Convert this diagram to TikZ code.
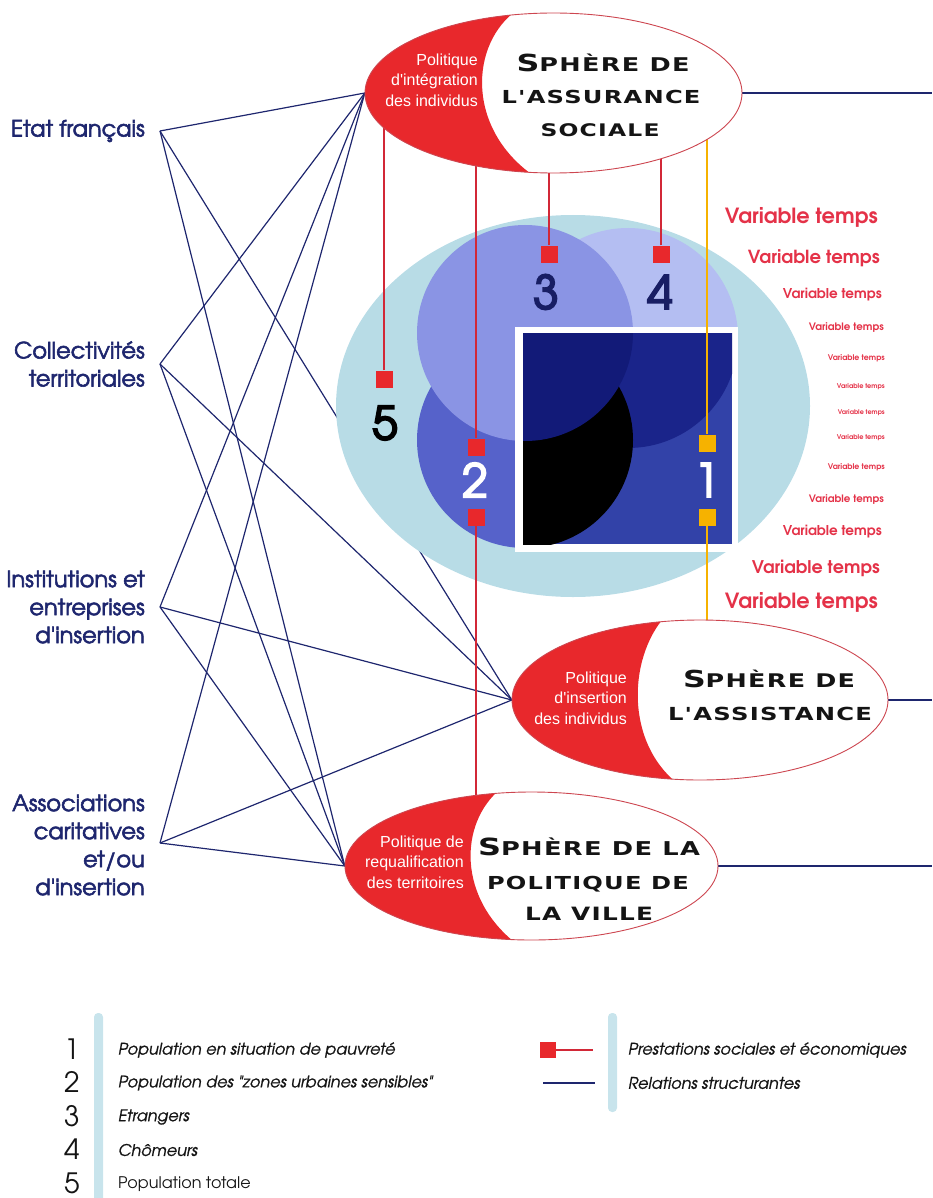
\documentclass[tikz,border=0pt]{standalone}
\usepackage{fontspec}
\usepackage{graphicx}
\usetikzlibrary{shapes.geometric}
\newfontfamily\adv{texgyreadventor}[Extension=.otf, UprightFont=*-regular, BoldFont=*-bold, ItalicFont=*-italic, BoldItalicFont=*-bolditalic]
\newfontfamily\advfb{texgyreadventor}[Extension=.otf, UprightFont=*-regular, FakeBold=2.5]
\newfontfamily\advnb{texgyreadventor}[Extension=.otf, UprightFont=*-regular, FakeBold=4]
\newfontfamily\advit{texgyreadventor}[Extension=.otf, UprightFont=*-italic, FakeBold=1]
\newfontfamily\sphfont{DejaVu Sans}[FakeStretch=1.35, LetterSpace=7]
\newfontfamily\polfont{Liberation Sans}
\definecolor{navy}{RGB}{30,38,110}
\definecolor{sred}{RGB}{232,40,44}
\definecolor{rline}{RGB}{210,40,55}
\definecolor{outl}{RGB}{205,70,80}
\definecolor{ylw}{RGB}{246,178,0}
\definecolor{lblue}{RGB}{184,220,230}
\definecolor{cfour}{RGB}{180,190,242}
\definecolor{cthree}{RGB}{138,148,228}
\definecolor{ctwo}{RGB}{86,98,202}
\definecolor{sqbase}{RGB}{50,66,168}
\definecolor{sqthree}{RGB}{18,26,120}
\definecolor{sqfour}{RGB}{26,36,138}
\definecolor{vtred}{RGB}{228,50,72}
\definecolor{numnavy}{RGB}{24,30,100}
\definecolor{legbar}{RGB}{200,228,236}
\definecolor{titlek}{RGB}{20,20,20}
\newcommand\sphl[2]{\resizebox{#1pt}{!}{#2}}
\newcommand\sphS[1]{{\fontsize{23}{23}\selectfont #1}}
\newcommand\vtxt[1]{\resizebox{#1pt}{!}{\adv\bfseries Variable temps}}
\tikzset{
  navyl/.style={draw=navy, line width=1.2pt},
  redl/.style={draw=rline, line width=2.6pt},
  ylwl/.style={draw=ylw, line width=2.6pt},
  rsq/.style={fill=sred, minimum size=17pt, inner sep=0pt, draw=none},
  ysq/.style={fill=ylw, minimum size=17pt, inner sep=0pt, draw=none},
  sphnode/.style={ellipse, inner sep=0pt, draw=none},
  sph/.style={anchor=base, inner sep=0pt, text=titlek, font=\sphfont\bfseries\fontsize{18.5}{18.5}\selectfont},
  pol/.style={anchor=east, inner sep=0pt, text=white, align=right, font=\polfont\fontsize{16}{20.5}\selectfont},
  actor/.style={anchor=east, inner sep=0pt, text=navy, align=right, font=\advfb\fontsize{22.5}{28}\selectfont},
  vt/.style={anchor=east, inner sep=0pt, text=vtred},
  bignum/.style={inner sep=0pt, font=\advnb\fontsize{46}{46}\selectfont},
  legnum/.style={inner sep=0pt, text=titlek, font=\adv\fontsize{28}{28}\selectfont},
  legtxt/.style={anchor=west, inner sep=0pt, text=titlek, font=\advit\fontsize{16}{16}\selectfont},
}
\begin{document}
\begin{tikzpicture}[x=1pt,y=-1pt]
\useasboundingbox (0,0) rectangle (932,1198);
% sphere nodes (names only)
\node[sphnode, minimum width=377pt, minimum height=160pt] (assur) at (553.5,93) {};
\node[sphnode, minimum width=376pt, minimum height=160pt] (assist) at (700,700) {};
\node[sphnode, minimum width=373pt, minimum height=148pt] (ville) at (531.5,866) {};
% actor anchor points
\coordinate (etatP) at (160,131);
\coordinate (collP) at (160,364);
\coordinate (instP) at (160,607);
\coordinate (assoP) at (160,843);
\coordinate (rA) at (932,93);
\coordinate (rB) at (932,700);
\coordinate (rC) at (932,866);
% relations structurantes
\foreach \a in {etatP,collP,instP,assoP}{
  \draw[navyl] (\a) -- (assur.west);
  \draw[navyl] (\a) -- (assist.west);
  \draw[navyl] (\a) -- (ville.west);
}
\draw[navyl] (assur.east) -- (rA);
\draw[navyl] (assist.east) -- (rB);
\draw[navyl] (ville.east) -- (rC);
% population diagram
\fill[lblue] (573,406) ellipse [x radius=237pt, y radius=191pt];
\fill[cfour] (628,338) circle [radius=110pt];
\fill[ctwo] (525,440) circle [radius=108pt];
\fill[cthree] (525,333) circle [radius=108pt];
\fill[white] (515,327) rectangle (738,552);
\fill[sqbase] (523,333) rectangle (732,544);
\begin{scope}
  \clip (523,333) rectangle (732,544);
  \fill[sqfour] (628,338) circle [radius=110pt];
  \fill[black] (525,440) circle [radius=108pt];
  \fill[sqthree] (525,333) circle [radius=108pt];
\end{scope}
% markers
\node[rsq] (q5) at (384,379) {};
\node[rsq] (q3) at (549,254) {};
\node[rsq] (q4) at (661,254) {};
\node[rsq] (q2a) at (476,447) {};
\node[rsq] (q2b) at (476,517) {};
\node[ysq] (y1a) at (707,443) {};
\node[ysq] (y1b) at (707,517) {};
% prestations
\draw[redl] (q5) -- (q5 |- assur.center);
\draw[redl] (q3) -- (q3 |- assur.center);
\draw[redl] (q4) -- (q4 |- assur.center);
\draw[redl] (q2a) -- (q2a |- assur.center);
\draw[redl] (q2b) -- (q2b |- ville.center);
\draw[ylwl] (y1a) -- (y1a |- assur.center);
\draw[ylwl] (y1b) -- (y1b |- assist.center);
\node[rsq] at (q5) {};
\node[rsq] at (q3) {};
\node[rsq] at (q4) {};
\node[rsq] at (q2a) {};
\node[rsq] at (q2b) {};
\node[ysq] at (y1a) {};
\node[ysq] at (y1b) {};
% numbers
\node[bignum, text=numnavy] (n3) at (546,292) {3};
\node[bignum, text=numnavy] (n4) at (660,292) {4};
\node[bignum, text=black] (n5) at (385,423) {5};
\node[bignum, text=white] (n2) at (475,480) {2};
\node[bignum, text=white] (n1) at (707,480) {1};
% spheres
\fill[white] (553.5,93) ellipse [x radius=188.5pt, y radius=80pt];
\begin{scope}
  \clip (553.5,93) ellipse [x radius=188.5pt, y radius=80pt];
  \fill[sred] (513,0) -- (513,13) .. controls (468,50) and (468,135) .. (540,180) -- (340,180) -- (340,0) -- cycle;
\end{scope}
\draw[outl, line width=0.9pt] (553.5,93) ellipse [x radius=188.5pt, y radius=80pt];

\fill[white] (700,700) ellipse [x radius=188pt, y radius=80pt];
\begin{scope}
  \clip (700,700) ellipse [x radius=188pt, y radius=80pt];
  \fill[sred] (662,600) -- (662,620) .. controls (626,665) and (626,755) .. (690,792) -- (490,792) -- (490,600) -- cycle;
\end{scope}
\draw[outl, line width=0.9pt] (700,700) ellipse [x radius=188pt, y radius=80pt];

\fill[white] (531.5,866) ellipse [x radius=186.5pt, y radius=74pt];
\begin{scope}
  \clip (531.5,866) ellipse [x radius=186.5pt, y radius=74pt];
  \fill[sred] (497,770) -- (497,792) .. controls (458,828) and (458,905) .. (525,950) -- (330,950) -- (330,770) -- cycle;
\end{scope}
\draw[outl, line width=0.9pt] (531.5,866) ellipse [x radius=186.5pt, y radius=74pt];
% sphere texts
\node[pol] (p1) at (478,80) {Politique\\d'intégration\\des individus};
\node[pol] (p2) at (627,698) {Politique\\d'insertion\\des individus};
\node[pol] (p3) at (464,862) {Politique de\\requalification\\des territoires};
\node[sph] (t1a) at (603,72) {\sphl{173}{\sphS{S}PHÈRE DE}};
\node[sph] (t1b) at (601,104) {\sphl{199}{L'ASSURANCE}};
\node[sph] (t1c) at (600,137) {\sphl{119}{SOCIALE}};
\node[sph] (t2a) at (769,687) {\sphl{172}{\sphS{S}PHÈRE DE}};
\node[sph] (t2b) at (770,720) {\sphl{204}{L'ASSISTANCE}};
\node[sph] (t3a) at (589,855) {\sphl{222}{\sphS{S}PHÈRE DE LA}};
\node[sph] (t3b) at (588,889) {\sphl{202}{POLITIQUE DE}};
\node[sph] (t3c) at (589,920) {\sphl{128}{LA VILLE}};
% variable temps
\node[vt] (v1) at (878,217) {\vtxt{153}};
\node[vt] (v2) at (880,258) {\vtxt{132}};
\node[vt] (v3) at (882,295) {\vtxt{99}};
\node[vt] (v4) at (884,328) {\vtxt{75}};
\node[vt] (v5) at (885,358) {\vtxt{57}};
\node[vt] (v6) at (885,387) {\vtxt{48}};
\node[vt] (v7) at (885,413) {\vtxt{47}};
\node[vt] (v8) at (885,438) {\vtxt{48}};
\node[vt] (v9) at (885,467) {\vtxt{57}};
\node[vt] (v10) at (884,500) {\vtxt{75}};
\node[vt] (v11) at (882,532) {\vtxt{99}};
\node[vt] (v12) at (880,568) {\vtxt{128}};
\node[vt] (v13) at (878,602) {\vtxt{153}};
% actors
\node[actor] (etat) at (145,131) {Etat français};
\node[actor] (coll) at (145,364) {Collectivités\\territoriales};
\node[actor] (inst) at (145,607) {Institutions et\\entreprises\\d'insertion};
\node[actor] (asso) at (145,845) {Associations\\caritatives\\et/ou\\d'insertion};
% legend
\fill[legbar, rounded corners=4pt] (94,1013) rectangle (103,1210);
\fill[legbar, rounded corners=4pt] (608,1013) rectangle (617,1112);
\node[legnum] (l1) at (72,1049) {1};
\node[legnum] (l2) at (72,1082) {2};
\node[legnum] (l3) at (72,1116) {3};
\node[legnum] (l4) at (72,1149) {4};
\node[legnum] (l5) at (72,1183) {5};
\node[legtxt] (lt1) at (118,1050) {Population en situation de pauvreté};
\node[legtxt] (lt2) at (118,1083) {Population des "zones urbaines sensibles"};
\node[legtxt] (lt3) at (118,1117) {Etrangers};
\node[legtxt] (lt4) at (118,1150) {Chômeurs};
\node[legtxt, font=\adv\fontsize{16}{16}\selectfont] (lt5) at (118,1184) {Population totale};
\node[rsq, minimum size=16pt] (lgq) at (548,1050) {};
\coordinate (lgqe) at (593,1050);
\draw[redl] (lgq) -- (lgqe);
\coordinate (lgn1) at (543,1083);
\coordinate (lgn2) at (595,1083);
\draw[navyl, line width=1.8pt] (lgn1) -- (lgn2);
\node[legtxt] (lr1) at (628,1050) {Prestations sociales et économiques};
\node[legtxt] (lr2) at (628,1083) {Relations structurantes};
\end{tikzpicture}
\end{document}
